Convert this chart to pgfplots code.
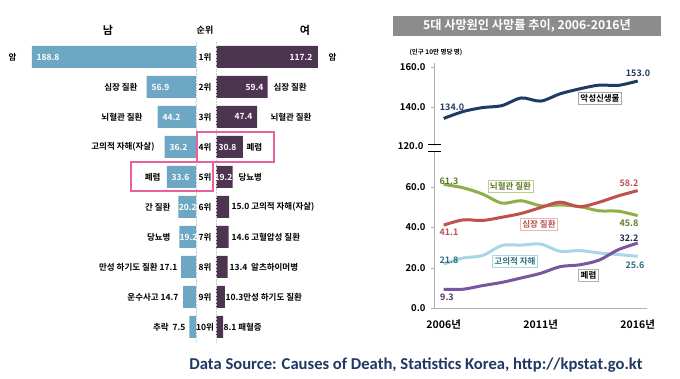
\documentclass[border=0pt]{standalone}
\usepackage{pgfplots}
\pgfplotsset{compat=1.18}
\usepackage{fontspec}
\setmainfont{Noto Sans CJK KR}[BoldFont={Noto Sans CJK KR Bold}]
\newfontfamily\carlito{Carlito}
\definecolor{maleblue}{HTML}{6DA7C4}
\definecolor{femalepur}{HTML}{4D3450}
\definecolor{pinkbox}{HTML}{E8619C}
\definecolor{cancer}{HTML}{1F3A63}
\definecolor{cva}{HTML}{8DB046}
\definecolor{cvatext}{HTML}{5E7A28}
\definecolor{heart}{HTML}{C0504D}
\definecolor{suic}{HTML}{A8D6E6}
\definecolor{suictext}{HTML}{2F6E80}
\definecolor{pneu}{HTML}{7A56A0}
\definecolor{titlegray}{HTML}{8C8C8C}
\definecolor{srcblue}{HTML}{1F3864}
\newcommand{\fs}[1]{\fontsize{#1}{#1}\selectfont}
\begin{document}
\begin{tikzpicture}[x=1pt,y=1pt]
\useasboundingbox (0,0) rectangle (680,379);
% ---------------- left: male bars ----------------
\begin{axis}[at={(22.2pt,37pt)}, anchor=south west, scale only axis,
  width=173.8pt, height=300pt, xmin=0, xmax=200, x dir=reverse,
  ymin=0.5, ymax=10.5, y dir=reverse, hide axis, clip=false]
\addplot[xbar, bar width=22pt, fill=maleblue, draw=none] coordinates {
 (188.8,1) (56.9,2) (44.2,3) (36.2,4) (33.6,5) (20.2,6) (19.2,7) (17.1,8) (14.7,9) (7.5,10)};
\end{axis}
% ---------------- left: female bars ----------------
\begin{axis}[at={(216pt,37pt)}, anchor=south west, scale only axis,
  width=121.7pt, height=300pt, xmin=0, xmax=140,
  ymin=0.5, ymax=10.5, y dir=reverse, hide axis, clip=false]
\addplot[xbar, bar width=22pt, fill=femalepur, draw=none] coordinates {
 (117.2,1) (59.4,2) (47.4,3) (30.8,4) (19.2,5) (15.0,6) (14.6,7) (13.4,8) (10.3,9) (8.1,10)};
\end{axis}
% centre lines
\draw[gray!40, densely dotted] (196,37) -- (196,337);
\draw[gray!40, densely dotted] (216,37) -- (216,337);
% headers
\node[font=\fs{11}\bfseries] at (108,{379-30}) {남};
\node[font=\fs{9}\bfseries] at (205,{379-30}) {순위};
\node[font=\fs{11}\bfseries] at (305,{379-30}) {여};
% ranks
\foreach \r in {1,...,10} {
  \node[font=\fs{8.5}\bfseries] at (205,{379-57-30*(\r-1)}) {\r 위};
}
% male labels
\begin{scope}[font=\fs{8.5}\bfseries]
\node[anchor=east] at (20,{379-57}) {암};
\node[anchor=west,text=white] at (33,{379-57}) {188.8};
\node[anchor=east] at (141,{379-87}) {심장 질환};
\node[anchor=west,text=white] at (148,{379-87}) {56.9};
\node[anchor=east] at (146,{379-117}) {뇌혈관 질환};
\node[anchor=west,text=white] at (159,{379-117}) {44.2};
\node[anchor=east] at (158,{379-147}) {고의적 자해(자살)};
\node[anchor=west,text=white] at (166,{379-147}) {36.2};
\node[anchor=east] at (164,{379-177}) {폐렴};
\node[anchor=west,text=white] at (168,{379-177}) {33.6};
\node[anchor=east] at (174,{379-207}) {간 질환};
\node[anchor=west,text=white,inner sep=0pt] at (178.6,{379-207}) {20.2};
\node[anchor=east] at (174,{379-237}) {당뇨병};
\node[anchor=west,text=white,inner sep=0pt] at (179.5,{379-237}) {19.2};
\node[anchor=east] at (181,{379-267}) {만성 하기도 질환 17.1};
\node[anchor=east] at (182,{379-297}) {운수사고 14.7};
\node[anchor=east] at (189,{379-327}) {추락\ \ 7.5};
% female labels
\node[anchor=east,text=white] at (316,{379-57}) {117.2};
\node[anchor=west] at (325,{379-57}) {암};
\node[anchor=east,text=white] at (267,{379-87}) {59.4};
\node[anchor=west] at (270,{379-87}) {심장 질환};
\node[anchor=east,text=white] at (256,{379-117}) {47.4};
\node[anchor=west] at (267,{379-117}) {뇌혈관 질환};
\node[anchor=east,text=white] at (240,{379-147}) {30.8};
\node[anchor=west] at (243,{379-147}) {폐렴};
\node[anchor=east,text=white,inner sep=0pt] at (232.7,{379-177}) {19.2};
\node[anchor=west] at (235,{379-177}) {당뇨병};
\node[anchor=west] at (228,{379-207}) {15.0 고의적 자해(자살)};
\node[anchor=west] at (228,{379-237}) {14.6 고혈압성 질환};
\node[anchor=west] at (226,{379-267}) {13.4\ \ 알츠하이머병};
\node[anchor=west] at (222,{379-297}) {10.3만성 하기도 질환};
\node[anchor=west] at (220,{379-327}) {8.1 패혈증};
\end{scope}
% pink boxes
\draw[pinkbox, line width=2pt] (197,{379-132}) rectangle (274,{379-162});
\draw[pinkbox, line width=2pt] (131,{379-162}) rectangle (213,{379-191});
% ---------------- right: title ----------------
\fill[titlegray] (393,{379-16}) rectangle (661,{379-36});
\node[text=white, font=\fs{12.2}\bfseries] at (527,{379-26}) {5대 사망원인 사망률 추이, 2006-2016년};
\node[anchor=west, font=\fs{6.5}\bfseries] at (406,{379-52}) {(인구 10만 명당 명)};
% ---------------- right: upper panel ----------------
\begin{axis}[at={(434pt,233pt)}, anchor=south west, scale only axis,
  width=213.4pt, height=82.7pt, xmin=2005.5, xmax=2016.5, ymin=120, ymax=162,
  axis x line=none, axis y line=left, y axis line style={gray!60, -},
  ytick={140,160}, yticklabels={140.0,160.0},
  yticklabel style={font=\fs{9.5}\bfseries, xshift=-2pt},
  major tick length=3pt, tick style={gray!60}, tick align=outside, clip=false]
\addplot[cancer, line width=3pt, smooth] coordinates {
 (2006,134.0) (2007,137.5) (2008,139.5) (2009,140.5) (2010,144.4) (2011,142.8)
 (2012,146.5) (2013,149.0) (2014,150.9) (2015,150.8) (2016,153.0)};
\end{axis}
% ---------------- right: lower panel ----------------
\begin{axis}[at={(434pt,71pt)}, anchor=south west, scale only axis,
  width=213.4pt, height=157.3pt, xmin=2005.5, xmax=2016.5, ymin=0, ymax=78,
  axis x line=bottom, axis y line=left, axis line style={gray!60, -},
  ytick={0,20,40,60}, yticklabels={0.0,20.0,40.0,60.0},
  yticklabel style={font=\fs{9.5}\bfseries, xshift=-2pt},
  xtick={2006,2011,2016}, xticklabels={2006년,2011년,2016년},
  xticklabel style={font=\fs{10.5}\bfseries, yshift=-5pt},
  x tick style={draw=none},
  extra x ticks={2010.5,2015.5}, extra x tick labels={},
  extra x tick style={tick style={gray!60, draw=gray!60}, major tick length=4pt},
  major tick length=3pt, tick style={gray!60}, tick align=outside, clip=false]
\addplot[cva, line width=3pt, smooth] coordinates {
 (2006,61.3) (2007,59.6) (2008,56.5) (2009,52.0) (2010,53.2) (2011,50.7)
 (2012,51.1) (2013,50.3) (2014,48.2) (2015,48.0) (2016,45.8)};
\addplot[heart, line width=3pt, smooth] coordinates {
 (2006,41.1) (2007,43.7) (2008,43.4) (2009,45.0) (2010,46.9) (2011,49.8)
 (2012,52.5) (2013,50.2) (2014,52.4) (2015,55.6) (2016,58.2)};
\addplot[suic, line width=3pt, smooth] coordinates {
 (2006,21.8) (2007,24.8) (2008,26.0) (2009,31.0) (2010,31.2) (2011,31.7)
 (2012,28.1) (2013,28.5) (2014,27.3) (2015,26.5) (2016,25.6)};
\addplot[pneu, line width=3pt, smooth] coordinates {
 (2006,9.3) (2007,9.3) (2008,11.1) (2009,12.7) (2010,14.9) (2011,17.2)
 (2012,20.5) (2013,21.4) (2014,23.7) (2015,28.9) (2016,32.2)};
\end{axis}
% break marks and 120 label
\fill[white] (430,{379-147}) rectangle (438,{379-149});
\draw[black, line width=0.8pt] (428,{379-144}) -- (441,{379-144});
\draw[black, line width=0.8pt] (428,{379-151}) -- (441,{379-151});
\node[anchor=east, font=\fs{9.5}\bfseries] at (427,{379-146}) {120.0};
% line value labels
\begin{scope}[font=\fs{9}\bfseries]
\node[text=cancer] at (452,{379-107}) {134.0};
\node[text=cancer] at (638,{379-73}) {153.0};
\node[text=cvatext] at (449,{379-181}) {61.3};
\node[text=heart] at (629,{379-183}) {58.2};
\node[text=heart] at (449,{379-232}) {41.1};
\node[text=cvatext] at (629,{379-223}) {45.8};
\node[text=cancer!80!black] at (629,{379-238}) {32.2};
\node[text=suictext] at (449,{379-260}) {21.8};
\node[text=suictext] at (635,{379-265}) {25.6};
\node[text=pneu!60!black] at (447,{379-297}) {9.3};
\end{scope}
\begin{scope}[font=\fs{8.5}\bfseries, fill=white, inner sep=2pt]
\node[draw=gray!70, fill=white, text=black] at (600,{379-98}) {악성신생물};
\node[draw=cva!60, fill=white, text=cvatext] at (510.5,{379-186}) {뇌혈관 질환};
\node[draw=heart!40, fill=white, text=heart] at (539,{379-224}) {심장 질환};
\node[draw=suic, fill=white, text=suictext] at (515,{379-261}) {고의적 자해};
\node[draw=gray!60, fill=white, text=black] at (588.5,{379-275}) {폐렴};
\end{scope}
% source
\node[text=srcblue, font=\carlito\fs{16.6}\bfseries] at (416,{379-365}) {Data Source: Causes of Death, Statistics Korea, http://kpstat.go.kt};
\end{tikzpicture}
\end{document}
